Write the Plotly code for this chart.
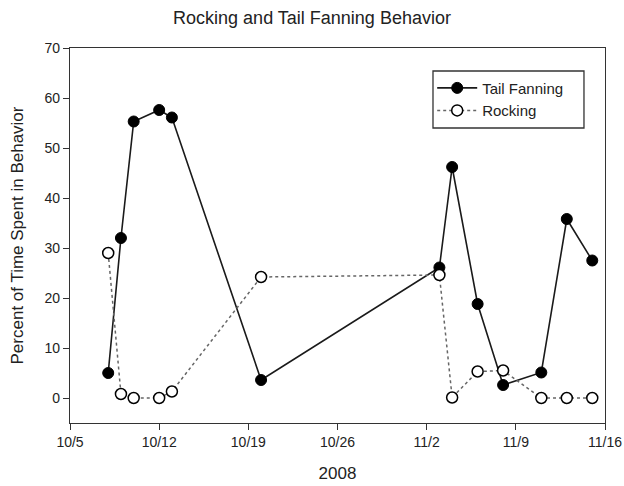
import plotly.graph_objects as go

dates = ["2008-10-08", "2008-10-09", "2008-10-10", "2008-10-12", "2008-10-13", "2008-10-20",
         "2008-11-03", "2008-11-04", "2008-11-06", "2008-11-08", "2008-11-11", "2008-11-13", "2008-11-15"]
tail_fanning = [5.0, 32.0, 55.3, 57.6, 56.1, 3.6, 26.1, 46.2, 18.8, 2.6, 5.1, 35.8, 27.5]
rocking = [29.0, 0.8, 0.0, 0.0, 1.3, 24.2, 24.6, 0.1, 5.3, 5.5, 0.0, 0.0, 0.0]

tick_vals = ["2008-10-05", "2008-10-12", "2008-10-19", "2008-10-26", "2008-11-02", "2008-11-09", "2008-11-16"]
tick_text = ["10/5", "10/12", "10/19", "10/26", "11/2", "11/9", "11/16"]
y_ticks = [0, 10, 20, 30, 40, 50, 60, 70]

font_family = "Liberation Sans, Arial, sans-serif"

fig = go.Figure()
fig.add_trace(go.Scatter(
    x=dates, y=tail_fanning, name="Tail Fanning", mode="lines+markers",
    line=dict(color="#1a1a1a", width=1.6),
    marker=dict(symbol="circle", size=11, color="black", line=dict(color="black", width=1)),
))
fig.add_trace(go.Scatter(
    x=dates, y=rocking, name="Rocking", mode="lines+markers",
    line=dict(color="#666666", width=1.5, dash="dot"),
    marker=dict(symbol="circle", size=11, color="white", line=dict(color="black", width=1.5)),
))

# legend frame (wider than plotly's auto-sized box, as in the reference)
fig.add_shape(type="rect", xref="paper", yref="paper",
              x0=0.6785, x1=0.9607, y0=0.7867, y1=0.9387,
              line=dict(color="#333333", width=1.3), fillcolor="white", layer="below")

fig.update_layout(
    width=624, height=486,
    margin=dict(l=70, r=19, t=48, b=63),
    paper_bgcolor="white", plot_bgcolor="white",
    font=dict(family=font_family, color="#222222", size=14),
    title=dict(text="Rocking and Tail Fanning Behavior", x=0.5, xanchor="center",
               y=1 - 18 / 486, yanchor="middle", font=dict(size=18, color="#222222")),
    showlegend=True,
    legend=dict(x=0.677, y=0.937, xanchor="left", yanchor="top",
                bgcolor="rgba(0,0,0,0)", borderwidth=0,
                font=dict(size=15), tracegroupgap=0, itemwidth=40),
)
fig.update_xaxes(
    range=["2008-10-05", "2008-11-16"], tickvals=tick_vals, ticktext=tick_text,
    ticks="outside", ticklen=6, tickcolor="#333333", tickwidth=1.2,
    showline=True, linecolor="#333333", linewidth=1.4, mirror=True,
    showgrid=False, zeroline=False, tickfont=dict(size=14), automargin=False,
    ticklabeloverflow="allow",
    title=dict(text="2008", font=dict(size=17), standoff=18),
)
fig.update_yaxes(
    range=[-5, 70], tickvals=y_ticks,
    ticks="outside", ticklen=6, tickcolor="#333333", tickwidth=1.2,
    showline=True, linecolor="#333333", linewidth=1.4, mirror=True,
    showgrid=False, zeroline=False, tickfont=dict(size=14), automargin=False,
    title=dict(text="Percent of Time Spent in Behavior", font=dict(size=17), standoff=16),
)

fig.write_html("out.html")
